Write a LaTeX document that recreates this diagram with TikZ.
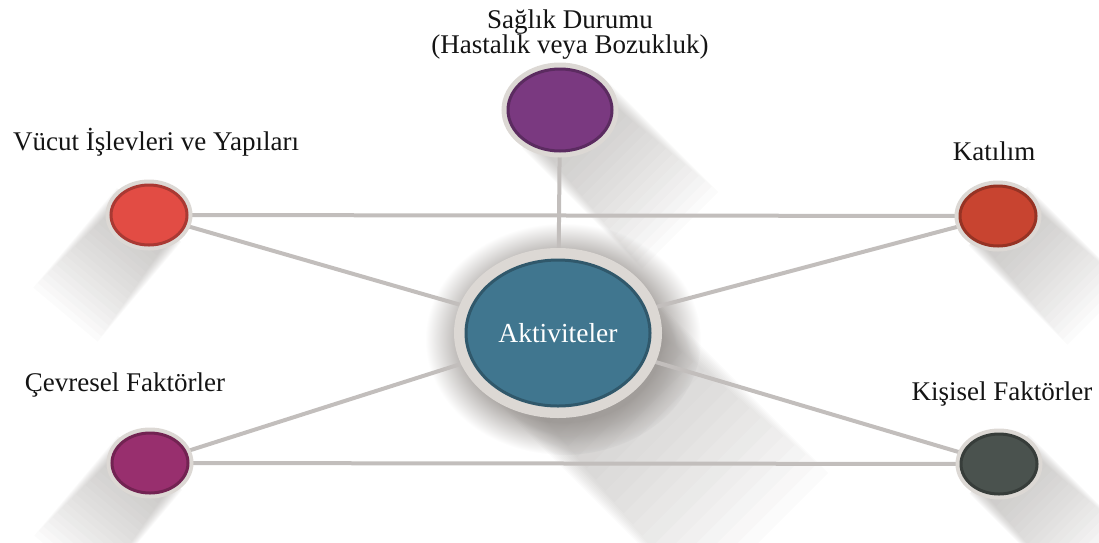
\documentclass[tikz,border=0pt]{standalone}
\usepackage{fontspec}
\setmainfont{Liberation Serif}
\usetikzlibrary{shapes.geometric,backgrounds}

\definecolor{ringgray}{RGB}{220,216,212}
\definecolor{linkgray}{RGB}{194,190,188}
\definecolor{shadowgray}{RGB}{150,146,143}
\definecolor{halogray}{RGB}{175,171,168}
\definecolor{healthcol}{RGB}{122,57,128}
\definecolor{bodycol}{RGB}{226,76,68}
\definecolor{partcol}{RGB}{200,68,48}
\definecolor{actcol}{RGB}{64,118,143}
\definecolor{envcol}{RGB}{152,47,110}
\definecolor{perscol}{RGB}{74,82,78}

\pgfdeclareradialshading{glow}{\pgfpoint{0bp}{0bp}}{%
  color(0bp)=(halogray); color(18bp)=(halogray);
  color(25bp)=(white); color(50bp)=(white)}

\pgfdeclarelayer{shadow}
\pgfsetlayers{shadow,background,main}

\tikzset{
  dot/.style={ellipse, inner sep=0pt, fill=#1, draw=#1!75!black, line width=3pt,
    preaction={draw=ringgray, line width=11pt}},
  link/.style={draw=linkgray, line width=4pt},
  tag/.style={font=\fontsize{27}{25}\selectfont, text=black!92, anchor=base}
}

\begin{document}
\begin{tikzpicture}[x=1pt, y=-1pt]
    \useasboundingbox (0,0) rectangle (1099,542);

    % circles
    \node[dot=healthcol, minimum width=104, minimum height=82,
          preaction={draw=ringgray, line width=13pt}] (health) at (560,110) {};
    \node[dot=bodycol, minimum width=76, minimum height=60] (body) at (149,215) {};
    \node[dot=partcol, minimum width=76, minimum height=60] (part) at (998,216) {};
    \node[dot=envcol, minimum width=76, minimum height=60] (env) at (150,463) {};
    \node[dot=perscol, minimum width=76, minimum height=60] (pers) at (999,464) {};
    \node[dot=actcol, minimum width=184, minimum height=146,
          preaction={draw=ringgray, line width=24pt},
          text=white, font=\fontsize{27.5}{25}\selectfont] (act) at (558,333) {Aktiviteler};

    % labels
    \node[tag, align=center] (healthlbl) at (570,53) {Sağlık Durumu\\(Hastalık veya Bozukluk)};
    \node[tag] (bodylbl) at (156,150) {Vücut İşlevleri ve Yapıları};
    \node[tag] (partlbl) at (994,160) {Katılım};
    \node[tag] (envlbl) at (125,391) {Çevresel Faktörler};
    \node[tag] (perslbl) at (1002,400) {Kişisel Faktörler};

    % links
    \begin{pgfonlayer}{background}
        \draw[link] (body) -- (part);
        \draw[link] (env) -- (pers);
        \foreach \n in {health,body,part,env,pers}
            \draw[link] (\n) -- (act);
    \end{pgfonlayer}

    % shadows
    \begin{pgfonlayer}{shadow}
        \shade[shading=glow] (563,339) ellipse (138 and 116);
        \foreach \n/\a/\len/\w in {health/-45/170/54, body/-130/130/42, part/-45/140/42,
                                  env/-130/130/42, pers/-45/140/42, act/-45/290/92} {
            \begin{scope}[shift={(\n.center)}, rotate=\a]
                \foreach \k in {1,...,20}
                    \fill[shadowgray, opacity=0.035]
                        (0,{-\w*(0.7+0.3*\k/20)}) rectangle ({\len*\k/20},{\w*(0.7+0.3*\k/20)});
            \end{scope}
        }
    \end{pgfonlayer}
\end{tikzpicture}
\end{document}
